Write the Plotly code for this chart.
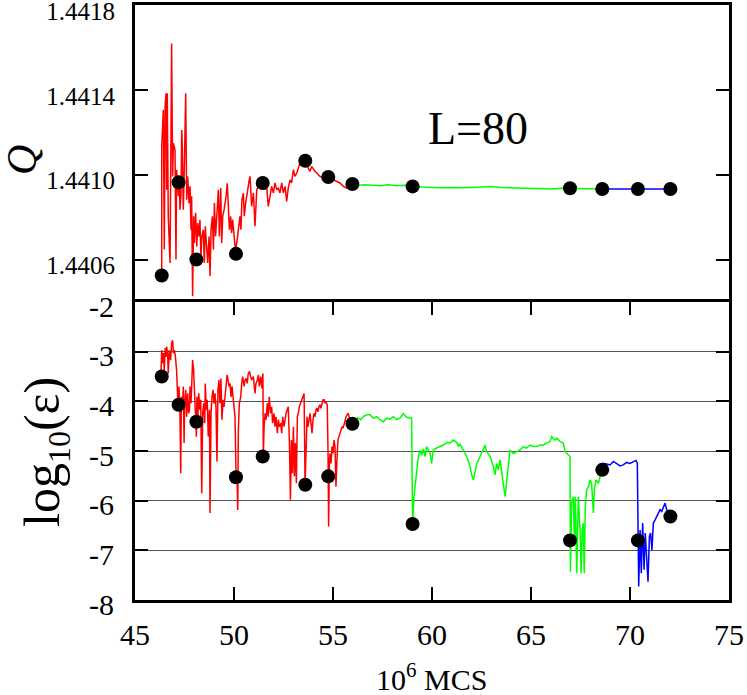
import plotly.graph_objects as go

# --- marker points (same MCS positions in both panels) ---
mark_x = [46.35, 47.2, 48.1, 50.1, 51.45, 53.6, 54.76, 55.98, 59.02, 66.97, 68.6, 70.4, 72.04]
mark_q = [1.440525, 1.440964, 1.4406, 1.440627, 1.440961, 1.441066, 1.440989, 1.440956,
          1.440945, 1.440936, 1.440933, 1.440933, 1.440933]
mark_e = [-3.50, -4.07, -4.41, -5.53, -5.11, -5.68, -5.51, -4.45, -6.47, -6.80, -5.38, -6.80, -6.32]

# --- top panel: Q ---
red_x_q = [46.30, 46.35, 46.35, 46.43, 46.48, 46.52, 46.57, 46.60, 46.63, 46.68, 46.77, 46.80,
           46.85, 46.90, 46.94, 47.02, 47.07, 47.10, 47.14, 47.19, 47.24, 47.27, 47.32, 47.36,
           47.39, 47.44, 47.49, 47.56, 47.61, 47.66, 47.73, 47.78, 47.83, 47.86, 47.91, 47.96,
           48.00, 48.06, 48.12, 48.17, 48.23, 48.28, 48.33, 48.38, 48.45, 48.50, 48.55, 48.62,
           48.67, 48.74, 48.79, 48.84, 48.91, 48.96, 49.01, 49.07, 49.13, 49.21, 49.26, 49.33,
           49.38, 49.43, 49.50, 49.55, 49.60, 49.66, 49.71, 49.77, 49.83, 49.88, 49.93, 50.00,
           50.07, 50.14, 50.19, 50.25, 50.30, 50.35, 50.40, 50.47, 50.52, 50.59, 50.64, 50.72,
           50.77, 50.81, 50.89, 50.98, 51.06, 51.15, 51.23, 51.45, 51.57, 51.65, 51.73, 51.82,
           51.90, 51.99, 52.07, 52.16, 52.24, 52.32, 52.41, 52.49, 52.58, 52.66, 52.74, 52.83,
           52.91, 53.00, 53.08, 53.17, 53.25, 53.33, 53.42, 53.59, 53.75, 53.84, 53.92, 54.01,
           54.09, 54.18, 54.26, 54.34, 54.51, 54.71, 54.85, 55.02, 55.19, 55.35, 55.52, 55.69,
           55.94, 56.00]
red_q = [1.440521, 1.440530, 1.441133, 1.441306, 1.440647, 1.441321, 1.441384, 1.440929,
         1.441384, 1.440804, 1.440584, 1.441086, 1.441619, 1.440992, 1.441149, 1.441117,
         1.440600, 1.441023, 1.440960, 1.440899, 1.440992, 1.440835, 1.440899, 1.441211,
         1.441133, 1.440835, 1.441023, 1.441384, 1.440882, 1.440992, 1.440866, 1.440945,
         1.440741, 1.440899, 1.440427, 1.440804, 1.440678, 1.440820, 1.440662, 1.440772,
         1.440709, 1.440788, 1.440615, 1.440709, 1.440741, 1.440584, 1.440757, 1.440678,
         1.440584, 1.440709, 1.440521, 1.440741, 1.440804, 1.440647, 1.440866, 1.440709,
         1.440804, 1.440929, 1.440709, 1.440937, 1.440678, 1.440804, 1.440835, 1.440866,
         1.440899, 1.440960, 1.440866, 1.440741, 1.440804, 1.440725, 1.440788, 1.440709,
         1.440647, 1.440678, 1.440725, 1.440772, 1.440804, 1.440741, 1.440882, 1.440913,
         1.440804, 1.440866, 1.440899, 1.440960, 1.440976, 1.440992, 1.440851, 1.440914,
         1.440757, 1.440929, 1.440945, 1.440961, 1.440929, 1.440945, 1.440851, 1.440898,
         1.440945, 1.440914, 1.440961, 1.440929, 1.440937, 1.440914, 1.440961, 1.440914,
         1.440945, 1.440874, 1.440937, 1.440976, 1.440961, 1.441024, 1.440992, 1.441008,
         1.441039, 1.441055, 1.441055, 1.441066, 1.441031, 1.441016, 1.441039, 1.441024,
         1.441016, 1.441008, 1.441000, 1.440992, 1.440984, 1.440989, 1.440984, 1.440976,
         1.440969, 1.440961, 1.440945, 1.440937, 1.440953, 1.440956]

green_x_q = [56.0, 56.3, 56.6, 57.0, 57.4, 57.8, 58.2, 58.6, 59.0, 59.5, 60.0, 60.5, 61.0,
             61.5, 62.0, 62.5, 63.0, 63.5, 64.0, 64.5, 65.0, 65.5, 66.0, 66.5, 67.0, 67.5,
             68.0, 68.6]
green_q = [1.440956, 1.440950, 1.440953, 1.440950, 1.440948, 1.440953, 1.440948, 1.440950,
           1.440945, 1.440942, 1.440940, 1.440938, 1.440940, 1.440938, 1.440940, 1.440942,
           1.440944, 1.440940, 1.440938, 1.440937, 1.440936, 1.440933, 1.440933, 1.440936,
           1.440936, 1.440934, 1.440933, 1.440933]

blue_x_q = [68.6, 69.5, 70.4, 71.2, 72.0]
blue_q = [1.440933, 1.440933, 1.440933, 1.440933, 1.440933]

# --- bottom panel: log10(eps) ---
red_x_e = [46.31, 46.35, 46.40, 46.43, 46.48, 46.52, 46.57, 46.60, 46.65, 46.68, 46.73, 46.80,
           46.85, 46.90, 46.94, 46.99, 47.04, 47.10, 47.14, 47.17, 47.22, 47.27, 47.31, 47.34,
           47.39, 47.44, 47.48, 47.51, 47.56, 47.61, 47.66, 47.71, 47.75, 47.78, 47.83, 47.86,
           47.91, 47.96, 48.01, 48.06, 48.10, 48.13, 48.17, 48.22, 48.27, 48.32, 48.37, 48.42,
           48.47, 48.52, 48.55, 48.60, 48.65, 48.70, 48.76, 48.79, 48.84, 48.89, 48.94, 48.99,
           49.04, 49.09, 49.14, 49.19, 49.24, 49.29, 49.34, 49.39, 49.45, 49.50, 49.55, 49.60,
           49.65, 49.70, 49.75, 49.80, 49.85, 49.90, 49.95, 50.00, 50.05, 50.10, 50.15, 50.19,
           50.22, 50.27, 50.34, 50.39, 50.44, 50.51, 50.56, 50.61, 50.67, 50.72, 50.78, 50.84,
           50.89, 50.98, 51.06, 51.11, 51.18, 51.23, 51.28, 51.35, 51.41, 51.46, 51.48, 51.52,
           51.57, 51.62, 51.68, 51.73, 51.78, 51.85, 51.90, 51.95, 52.02, 52.07, 52.12, 52.19,
           52.24, 52.29, 52.36, 52.41, 52.46, 52.53, 52.58, 52.63, 52.69, 52.74, 52.80, 52.85,
           52.90, 52.95, 53.00, 53.05, 53.10, 53.15, 53.20, 53.25, 53.30, 53.37, 53.42, 53.47,
           53.54, 53.59, 53.64, 53.69, 53.74, 53.79, 53.84, 53.89, 53.94, 53.99, 54.04, 54.09,
           54.14, 54.19, 54.24, 54.29, 54.34, 54.39, 54.44, 54.50, 54.55, 54.60, 54.65, 54.71,
           54.75, 54.78, 54.82, 54.85, 54.90, 54.95, 55.00, 55.05, 55.10, 55.15, 55.20, 55.25,
           55.30, 55.35, 55.40, 55.46, 55.51, 55.56, 55.61, 55.66, 55.72, 55.77, 55.83, 55.89,
           55.96]
red_e = [-3.45, -2.97, -3.23, -3.03, -3.37, -2.93, -3.10, -2.90, -3.07, -3.44, -2.97, -3.17,
         -2.83, -2.77, -3.03, -2.97, -3.10, -3.37, -3.77, -4.11, -3.70, -4.24, -5.45, -3.91,
         -4.17, -3.70, -4.84, -4.04, -3.77, -4.31, -3.84, -4.24, -4.17, -3.70, -4.04, -3.57,
         -3.17, -3.37, -3.91, -4.17, -4.71, -3.91, -4.37, -3.84, -4.17, -3.97, -5.85, -4.24,
         -4.04, -4.44, -3.64, -4.17, -3.97, -4.71, -4.17, -6.25, -4.24, -3.91, -3.77, -4.04,
         -3.84, -4.11, -5.21, -3.77, -3.57, -4.04, -3.54, -4.37, -3.97, -4.11, -3.84, -3.64,
         -3.47, -3.57, -3.70, -3.64, -3.91, -3.70, -3.91, -4.04, -4.31, -5.38, -5.51, -6.19,
         -4.58, -4.04, -3.91, -3.64, -3.50, -3.70, -3.57, -3.54, -3.64, -3.44, -3.40, -3.50,
         -3.57, -3.50, -3.84, -3.64, -3.57, -3.47, -3.70, -3.50, -3.74, -3.44, -5.11, -4.51,
         -4.24, -4.37, -4.04, -4.31, -3.91, -4.24, -4.11, -4.44, -4.24, -4.51, -4.31, -4.64,
         -4.37, -4.51, -4.44, -4.64, -4.31, -4.51, -4.37, -4.24, -4.17, -4.11, -4.84, -5.98,
         -4.78, -5.45, -4.51, -5.51, -4.84, -5.65, -4.31, -4.24, -4.11, -4.04, -3.97, -3.94,
         -3.84, -5.68, -4.91, -4.31, -4.51, -4.37, -4.24, -4.44, -4.64, -4.37, -4.24, -4.31,
         -4.17, -4.14, -4.21, -4.11, -4.07, -4.14, -4.04, -3.97, -3.97, -4.04, -4.01, -4.07,
         -5.05, -6.52, -5.18, -5.05, -5.25, -4.91, -5.05, -4.78, -4.91, -5.72, -5.18, -4.78,
         -4.71, -4.64, -4.58, -4.51, -4.54, -4.44, -4.37, -4.31, -4.27, -4.24, -4.34, -4.37,
         -4.44]

green_x_e = [55.98, 56.10, 56.25, 56.40, 56.55, 56.70, 56.87, 57.04, 57.21, 57.37, 57.54, 57.71,
             57.88, 58.05, 58.22, 58.38, 58.55, 58.72, 58.97, 59.00, 59.02, 59.09, 59.19, 59.31,
             59.39, 59.48, 59.56, 59.65, 59.73, 59.90, 59.98, 60.07, 60.24, 60.40, 60.57, 60.74,
             60.91, 61.08, 61.25, 61.33, 61.41, 61.58, 61.75, 61.92, 62.00, 62.09, 62.17, 62.26,
             62.43, 62.59, 62.68, 62.76, 62.93, 63.10, 63.18, 63.27, 63.35, 63.44, 63.52, 63.60,
             63.69, 63.77, 63.86, 63.94, 64.11, 64.28, 64.45, 64.61, 64.78, 64.95, 65.12, 65.29,
             65.46, 65.62, 65.79, 65.96, 66.04, 66.13, 66.21, 66.30, 66.47, 66.63, 66.72, 66.89,
             66.97, 66.99, 67.05, 67.14, 67.19, 67.24, 67.31, 67.39, 67.48, 67.53, 67.59, 67.64,
             67.69, 67.74, 67.81, 67.90, 67.98, 68.06, 68.15, 68.20, 68.28, 68.40, 68.49, 68.59]
green_e = [-4.44, -4.40, -4.33, -4.37, -4.30, -4.27, -4.27, -4.34, -4.31, -4.37, -4.41, -4.34,
           -4.36, -4.31, -4.37, -4.34, -4.25, -4.32, -4.34, -5.78, -6.47, -5.92, -5.51, -5.11,
           -4.98, -5.08, -4.96, -5.11, -4.91, -5.05, -5.25, -4.98, -4.94, -4.91, -4.88, -4.83,
           -4.84, -4.78, -4.83, -4.91, -4.86, -4.98, -5.11, -5.31, -5.48, -5.58, -5.41, -5.25,
           -5.11, -4.98, -4.88, -5.01, -5.11, -5.31, -5.48, -5.25, -5.38, -5.18, -5.38, -5.65,
           -5.92, -5.58, -5.25, -4.98, -5.05, -5.01, -4.98, -4.91, -4.94, -4.88, -4.91, -4.91,
           -4.88, -4.88, -4.84, -4.81, -4.71, -4.74, -4.78, -4.74, -4.81, -4.84, -5.01, -5.08,
           -5.11, -7.43, -6.05, -5.92, -6.79, -5.92, -7.46, -5.92, -6.59, -7.46, -6.59, -6.45,
           -7.46, -6.12, -5.78, -5.72, -5.58, -5.65, -6.25, -5.78, -5.58, -5.65, -5.51, -5.38]

blue_x_e = [68.59, 68.65, 68.82, 68.99, 69.16, 69.33, 69.50, 69.66, 69.83, 70.00, 70.17, 70.30,
            70.37, 70.39, 70.42, 70.44, 70.51, 70.57, 70.64, 70.71, 70.77, 70.84, 70.91, 70.98,
            71.04, 71.11, 71.18, 71.26, 71.35, 71.43, 71.52, 71.60, 71.68, 71.77, 71.85, 71.94,
            72.02]
blue_e = [-5.38, -5.25, -5.26, -5.28, -5.21, -5.25, -5.30, -5.28, -5.23, -5.25, -5.21, -5.19,
          -5.25, -5.92, -7.12, -7.73, -6.59, -7.46, -6.45, -7.39, -6.65, -7.12, -7.63, -6.72,
          -6.65, -6.99, -6.45, -6.39, -6.32, -6.25, -6.18, -6.22, -6.15, -6.05, -6.18, -6.22,
          -6.32]

q_ticks = [1.4406, 1.4410, 1.4414, 1.4418]
e_ticks = [-8, -7, -6, -5, -4, -3, -2]
x_ticks = [45, 50, 55, 60, 65, 70, 75]

FONT = "Liberation Serif"
W, H = 747, 695
ML, MR, MT, MB = 135, 18, 5, 95
PW, PH = W - ML - MR, H - MT - MB
split = (H - MB - 302) / PH


def px_x(p):
    # pixel column -> paper coordinate
    return (p - ML) / PW


def px_y(p):
    # pixel row -> paper coordinate
    return (H - MB - p) / PH


fig = go.Figure()

for xs, ys, col in [(red_x_q, red_q, "#ff0000"), (green_x_q, green_q, "#00ff00"), (blue_x_q, blue_q, "#0000ff")]:
    fig.add_trace(go.Scatter(x=xs, y=ys, mode="lines", line=dict(color=col, width=1.5),
                             xaxis="x", yaxis="y", showlegend=False))
fig.add_trace(go.Scatter(x=mark_x, y=mark_q, mode="markers", marker=dict(color="black", size=14),
                         xaxis="x", yaxis="y", showlegend=False))

for xs, ys, col in [(red_x_e, red_e, "#ff0000"), (green_x_e, green_e, "#00ff00"), (blue_x_e, blue_e, "#0000ff")]:
    fig.add_trace(go.Scatter(x=xs, y=ys, mode="lines", line=dict(color=col, width=1.5),
                             xaxis="x2", yaxis="y2", showlegend=False))
fig.add_trace(go.Scatter(x=mark_x, y=mark_e, mode="markers", marker=dict(color="black", size=14),
                         xaxis="x2", yaxis="y2", showlegend=False))

axis_common = dict(showline=True, linewidth=3, linecolor="black", zeroline=False,
                   tickcolor="black", ticklen=13, tickwidth=2, automargin=False,
                   ticklabeloverflow="allow")

fig.update_layout(
    width=W, height=H,
    margin=dict(l=ML, r=MR, t=MT, b=MB),
    paper_bgcolor="white", plot_bgcolor="white",
    font=dict(family=FONT, color="black"),
    # top panel x axis only draws the upper frame line; the shared middle line comes from x2
    xaxis=dict(domain=[0, 1], anchor="y", range=[45, 75], side="top", mirror=False, ticks="",
               showticklabels=False, showgrid=False, **axis_common),
    yaxis=dict(domain=[split, 1], anchor="x", range=[1.4404, 1.4418], tickvals=q_ticks,
               ticktext=["%.4f" % v for v in q_ticks], ticks="inside", mirror="ticks",
               showgrid=False, tickfont=dict(size=25), ticklabelstandoff=12,
               ticklabelshift=6, **axis_common),
    xaxis2=dict(domain=[0, 1], anchor="y2", range=[45, 75], tickvals=x_ticks,
                ticktext=[str(v) for v in x_ticks], ticks="inside", mirror="ticks",
                showgrid=False, tickfont=dict(size=30), ticklabelstandoff=6, **axis_common),
    yaxis2=dict(domain=[0, split], anchor="x2", range=[-8, -2], tickvals=e_ticks,
                ticktext=["%d" % v for v in e_ticks], ticks="inside", mirror="ticks",
                showgrid=True, gridcolor="#555555", gridwidth=1,
                tickfont=dict(size=30), ticklabelstandoff=12, ticklabelshift=4,
                **axis_common),
    annotations=[
        dict(text="<i>Q</i>", xref="paper", yref="paper", x=px_x(22), y=px_y(160),
             xanchor="center", yanchor="middle", textangle=-90, showarrow=False,
             font=dict(size=42)),
        dict(text="log<sub><span style='font-size:32px'>10</span></sub>(ε)", xref="paper",
             yref="paper", x=px_x(45), y=px_y(452), xanchor="center", yanchor="middle",
             textangle=-90, showarrow=False, font=dict(size=50)),
        dict(text="10<sup>6</sup> MCS", xref="paper", yref="paper", x=px_x(431),
             y=px_y(677), xanchor="center", yanchor="middle", showarrow=False,
             font=dict(size=30)),
        dict(text="L=80", xref="x", yref="y", x=62.31, y=1.441216,
             xanchor="center", yanchor="middle", showarrow=False, font=dict(size=46)),
    ],
)

# drop the default 8px page margin so the figure fills the window; no toolbar
fig.write_html("out.html", config={"displayModeBar": False},
               post_script="document.body.style.margin='0px';")
